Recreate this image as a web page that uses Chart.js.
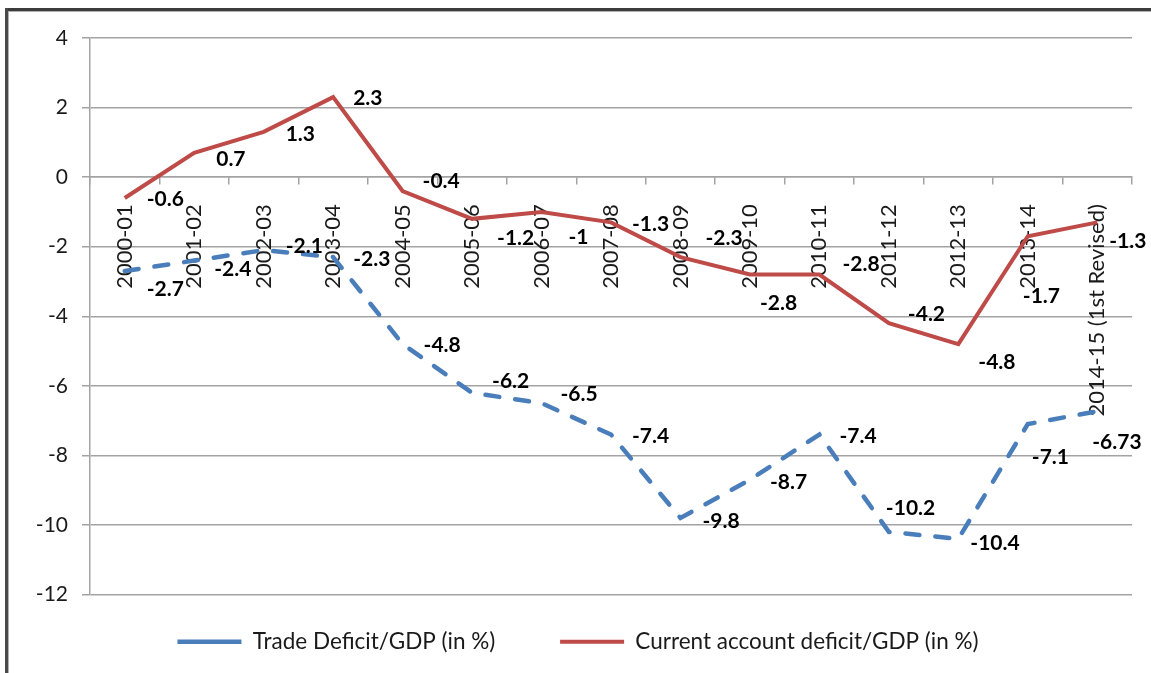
<!DOCTYPE html>
<html>
<head>
<meta charset="utf-8">
<script src="https://cdn.jsdelivr.net/npm/chart.js@4.4.1/dist/chart.umd.min.js"></script>
<style>
  html, body { margin: 0; padding: 0; background: #fff; }
  #wrap { position: relative; width: 1151px; height: 673px; }
  #wrap canvas { position: absolute; left: 0; top: 0; }
  .edge-top { position: absolute; left: 5px; right: 0; top: 8px; height: 3px; background: #3c3c3c; }
  .edge-top2 { position: absolute; left: 8px; right: 0; top: 11px; height: 1px; background: #b0b0b0; }
  .edge-left { position: absolute; left: 5px; top: 8px; bottom: 0; width: 3px; background: #4a4a4a; }
  .edge-left2 { position: absolute; left: 8px; top: 11px; bottom: 0; width: 1px; background: #b0b0b0; }
</style>
</head>
<body>
<div id="wrap">
  <canvas id="c" width="1151" height="673"></canvas>
  <div class="edge-top"></div><div class="edge-top2"></div>
  <div class="edge-left"></div><div class="edge-left2"></div>
</div>
<script>
const years = ['2000-01', '2001-02', '2002-03', '2003-04', '2004-05', '2005-06', '2006-07', '2007-08',
  '2008-09', '2009-10', '2010-11', '2011-12', '2012-13', '2013-14', '2014-15 (1st Revised)'];

const tradeDeficit = [-2.7, -2.4, -2.1, -2.3, -4.8, -6.2, -6.5, -7.4, -9.8, -8.7, -7.4, -10.2, -10.4, -7.1, -6.73];
const currentAccount = [-0.6, 0.7, 1.3, 2.3, -0.4, -1.2, -1, -1.3, -2.3, -2.8, -2.8, -4.2, -4.8, -1.7, -1.3];

const yMin = -12, yMax = 4, yStep = 2;

// where each value label sits relative to its point (left edge dx, middle dy)
const tradeLabelPos = [[22, 18], [20, 9], [22, -4], [20, 2], [21, 1], [20, -12], [19, -9], [21, 2],
  [22, 3], [20, 3], [20, 2], [-3, -24], [12, 4], [4, 33], [-5, 31]];
const cadLabelPos = [[22, 1], [22, 6], [22, 2], [20, 1], [20, -10], [25, 19], [27, 25], [21, 2],
  [25, -19], [10, 29], [23, -10], [19, -9], [20, 18], [-5, 60], [12, 19]];

const BLUE = '#4a7ebb';
const RED = '#be4b48';
const GRID = '#a3a3a3';
const FONT = 'Lato';

const valueLabels = {
  id: 'valueLabels',
  afterDatasetsDraw(chart) {
    const ctx = chart.ctx;
    const offsets = [tradeLabelPos, cadLabelPos];
    ctx.save();
    ctx.font = `bold 21px ${FONT}`;
    ctx.fillStyle = '#000';
    ctx.textAlign = 'left';
    ctx.textBaseline = 'middle';
    chart.data.datasets.forEach((ds, di) => {
      const meta = chart.getDatasetMeta(di);
      meta.data.forEach((pt, i) => {
        const [dx, dy] = offsets[di][i];
        ctx.fillText(String(ds.data[i]), pt.x + dx, pt.y + dy);
      });
    });
    ctx.restore();
  }
};

function draw() {
  const ctx = document.getElementById('c').getContext('2d');
  new Chart(ctx, {
    type: 'line',
    data: {
      labels: years,
      datasets: [
        {
          label: 'Trade Deficit/GDP (in %)',
          data: tradeDeficit,
          borderColor: BLUE,
          backgroundColor: BLUE,
          borderWidth: 4.5,
          borderDash: [14, 16],
          borderCapStyle: 'round',
          pointRadius: 0,
          tension: 0
        },
        {
          label: 'Current account deficit/GDP (in %)',
          data: currentAccount,
          borderColor: RED,
          backgroundColor: RED,
          borderWidth: 4,
          pointRadius: 0,
          tension: 0
        }
      ]
    },
    options: {
      responsive: false,
      animation: false,
      layout: { padding: { top: 38, right: 19, left: 24, bottom: 10 } },
      plugins: {
        legend: {
          position: 'bottom',
          labels: {
            usePointStyle: true,
            pointStyle: 'line',
            pointStyleWidth: 64,
            padding: 36,
            color: '#1a1a1a',
            font: { family: FONT, size: 22.5 },
            generateLabels(chart) {
              const items = Chart.defaults.plugins.legend.labels.generateLabels(chart);
              items.forEach((it, i) => {
                it.pointStyle = 'line';
                if (it.lineDash && it.lineDash.length) it.lineDash = [20, 16];
                if (i === 0) it.text += '     ';
              });
              return items;
            }
          }
        },
        tooltip: { enabled: false }
      },
      scales: {
        x: {
          type: 'category',
          position: { y: 0 },
          offset: true,
          grid: { offset: true, drawOnChartArea: false, drawTicks: true, tickLength: 7, color: GRID, lineWidth: 1.5 },
          border: { color: GRID, width: 1.5 },
          ticks: {
            autoSkip: false,
            minRotation: 90,
            maxRotation: 90,
            padding: 20,
            color: '#1a1a1a',
            font: { family: FONT, size: 22 }
          }
        },
        y: {
          min: yMin,
          max: yMax,
          afterFit: (scale) => { scale.width = 66; },
          grid: { color: GRID, lineWidth: 1.5, tickLength: 8 },
          border: { color: GRID, width: 1.5 },
          ticks: {
            stepSize: yStep,
            padding: 14,
            color: '#1a1a1a',
            font: { family: FONT, size: 21 }
          }
        }
      }
    },
    plugins: [valueLabels]
  });
}

Promise.all([
  document.fonts.load(`22px ${FONT}`),
  document.fonts.load(`bold 21px ${FONT}`)
]).then(draw, draw);
</script>
</body>
</html>
